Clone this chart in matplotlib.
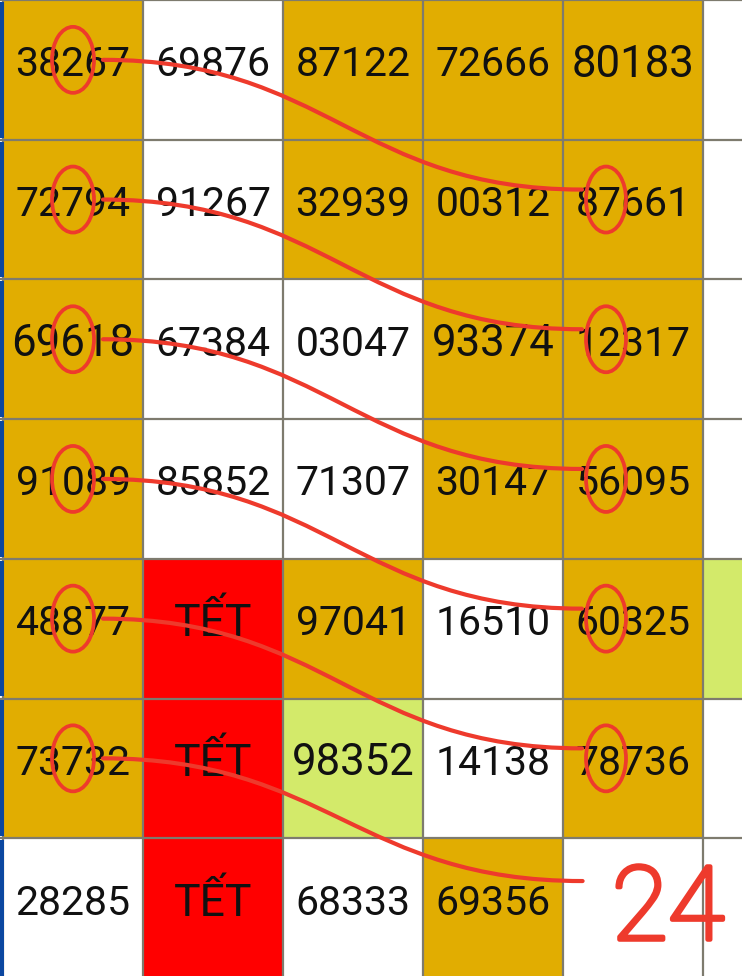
import matplotlib
matplotlib.use("Agg")
import matplotlib.pyplot as plt
import matplotlib.patheffects as pe
from matplotlib.patches import Rectangle, Ellipse, PathPatch
from matplotlib.path import Path

# ---------------- data ----------------
row0 = ["38267", "69876", "87122", "72666", "80183", ""]
row1 = ["72794", "91267", "32939", "00312", "87661", ""]
row2 = ["69618", "67384", "03047", "93374", "12317", ""]
row3 = ["91089", "85852", "71307", "30147", "56095", ""]
row4 = ["48877", "TẾT", "97041", "16510", "60325", ""]
row5 = ["73732", "TẾT", "98352", "14138", "78736", ""]
row6 = ["28285", "TẾT", "68333", "69356", "", ""]
table_values = [row0, row1, row2, row3, row4, row5, row6]

color_codes = [
    "GWGGGW",
    "GWGGGW",
    "GWWGGW",
    "GWWGGW",
    "GRGWGL",
    "GRLWGW",
    "WRWGWW",
]
big_cells = [(0, 4), (2, 0), (2, 3), (5, 2)]

# links: (src_row, src_col, src_digit, dst_row, dst_col, dst_digit)
links = [
    (0, 0, 2, 1, 4, 1),
    (1, 0, 2, 2, 4, 1),
    (2, 0, 2, 3, 4, 1),
    (3, 0, 2, 4, 4, 1),
    (4, 0, 2, 5, 4, 1),
    (5, 0, 2, 6, 4, None),
]
note_text = "24"

# ---------------- style ----------------
palette = {"G": "#E1AD01", "W": "#FFFFFF", "R": "#FF0000", "L": "#D3EA6A"}
PEN = "#EE3A2C"
GRID = "#7E7B6E"
CW, RH = 140.0, 139.7   # pixels per column / row
DIGIT_W = 23.0 / CW      # width of one digit in column units

fig = plt.figure(figsize=(7.42, 9.76), dpi=100)
ax = fig.add_axes([0, 0, 1, 1])
ax.set_xlim(-3 / CW, 739 / CW)
ax.set_ylim(976 / RH, 0)
ax.axis("off")

nrows = len(table_values)
ncols = len(table_values[0])

for r in range(nrows):
    for c in range(ncols):
        ax.add_patch(Rectangle((c, r), 1, 1, facecolor=palette[color_codes[r][c]],
                               edgecolor="none", zorder=1))

# grid lines
for c in range(ncols + 1):
    ax.plot([c, c], [0, nrows + 1], color=GRID, lw=1.6, zorder=2)
for r in range(nrows + 1):
    ax.plot([-1, ncols + 1], [r, r], color=GRID, lw=1.6, zorder=2)
# blue left edge
for r in range(nrows):
    ax.add_patch(Rectangle((-3 / CW, r + 2 / RH), 4 / CW, 1 - 4 / RH,
                           facecolor="#0B47A0", edgecolor="none", zorder=3))

# text
for r in range(nrows):
    for c in range(ncols):
        s = table_values[r][c]
        if not s:
            continue
        size = 31.5 if (r, c) in big_cells else 29.5
        if s == "TẾT":
            size = 32
        ax.text(c + 0.5, r + 0.5 - 5 / RH, s, ha="center", va="center",
                fontsize=size, family=["Roboto", "DejaVu Sans"], color="#111111",
                zorder=4)


def digit_x(col, idx):
    return col + 0.5 + (idx - 2) * DIGIT_W


# circles and connecting strokes
for (sr, sc, sd, dr, dc, dd) in links:
    sx = digit_x(sc, sd)
    sy = sr + 0.5 - 10 / RH
    ax.add_patch(Ellipse((sx, sy), 42 / CW, 66 / RH, fill=False, edgecolor=PEN,
                         lw=2.7, zorder=5))
    if dd is not None:
        tx = digit_x(dc, dd) - 4 / CW
        ty = dr + 0.5 - 10 / RH
        ax.add_patch(Ellipse((tx, ty), 40 / CW, 66 / RH, fill=False, edgecolor=PEN,
                             lw=2.7, zorder=5))
        ex, ey = tx - 24 / CW, dr + 0.5 - 20 / RH
    else:
        ex, ey = dc + 0.14, dr + 0.5 - 27 / RH
    x0, y0 = sx + 30 / CW, sy
    verts = [(x0, y0), (x0 + 1.6, y0), (ex - 1.6, ey), (ex, ey)]
    path = Path(verts, [Path.MOVETO, Path.CURVE4, Path.CURVE4, Path.CURVE4])
    ax.add_patch(PathPatch(path, fill=False, edgecolor=PEN, lw=3.0,
                           capstyle="round", zorder=5))

# handwritten note
ax.text(4 + 0.5 + 35 / CW, 6 + 0.5 + 3 / RH, note_text, ha="center", va="center",
        fontsize=74, fontweight="light", family=["Roboto", "DejaVu Sans"],
        color=PEN, zorder=5,
        path_effects=[pe.withStroke(linewidth=3.2, foreground=PEN)])

fig.savefig("out.png", dpi=100)
